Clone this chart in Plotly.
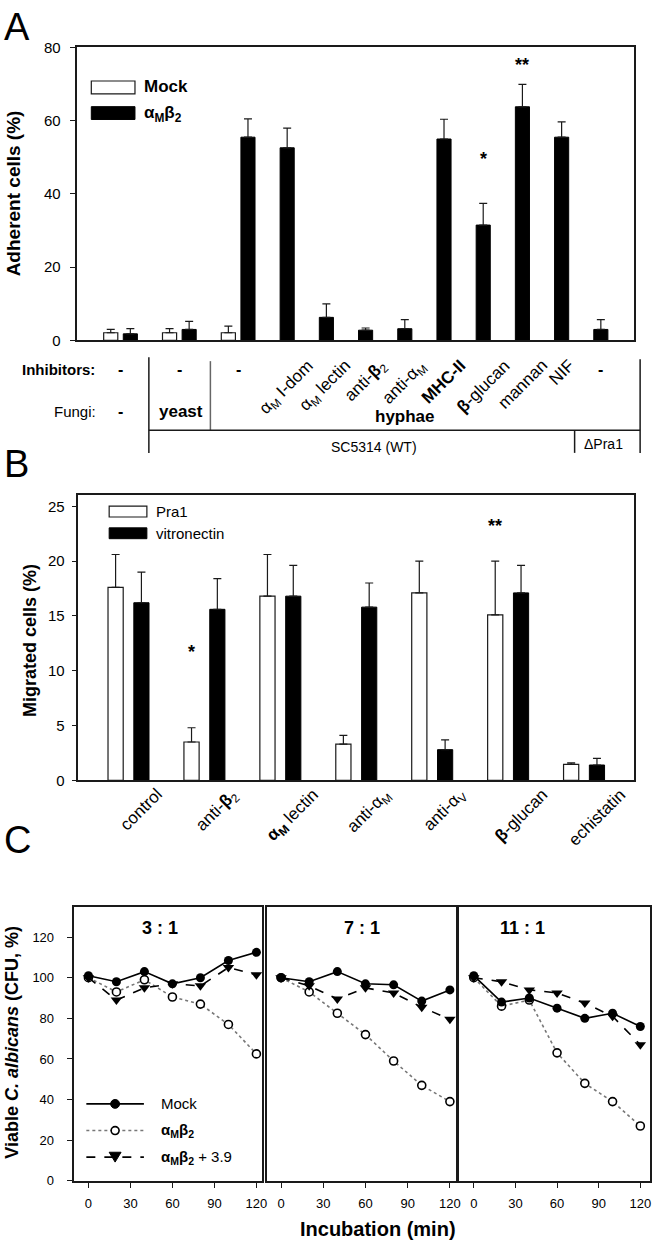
import plotly.graph_objects as go

W, H = 661, 1250
def px(x): return x / W
def py(y): return 1 - y / H
FONT = "Arial, 'Liberation Sans', sans-serif"
LC = "#1a1a1a"

# ---------------- Panel A data ----------------
a_inhib = ["-", "-", "-", "α<sub>M</sub> I-dom", "α<sub>M</sub> lectin", "anti-<b>β</b><sub>2</sub>",
           "anti-α<sub>M</sub>", "<b>MHC-II</b>", "<b>β</b>-glucan", "mannan", "NIF", "-"]
a_pos = [0, 1.5, 3, 4, 5, 6, 7, 8, 9, 10, 11, 12]
a_mock = [2.1, 2.1, 2.1, None, None, None, None, None, None, None, None, None]
a_mock_err = [0.9, 1.1, 1.8, 0, 0, 0, 0, 0, 0, 0, 0, 0]
a_amb2 = [1.8, 3.0, 55.5, 52.6, 6.3, 2.8, 3.2, 55.0, 31.5, 63.8, 55.5, 3.0]
a_amb2_err = [1.4, 2.2, 5.0, 5.4, 3.7, 0.6, 2.5, 5.4, 5.9, 6.1, 4.2, 2.7]
a_sig = ["", "", "", "", "", "", "", "", "*", "**", "", ""]
a_sig_y = [0, 0, 0, 0, 0, 0, 0, 0, 49.6, 75.2, 0, 0]

# ---------------- Panel B data ----------------
b_cats = ["control", "anti-β2", "αM lectin", "anti-αM", "anti-αV", "β-glucan", "echistatin"]
b_labels = ["control", "anti-<b>β</b><sub>2</sub>", "<b>α<sub>M</sub></b> lectin", "anti-α<sub>M</sub>",
            "anti-α<sub>V</sub>", "<b>β</b>-glucan", "echistatin"]
b_pra1 = [17.6, 3.5, 16.8, 3.3, 17.1, 15.1, 1.45]
b_pra1_err = [3.0, 1.3, 3.8, 0.8, 2.9, 4.9, 0.15]
b_vn = [16.2, 15.6, 16.8, 15.8, 2.8, 17.1, 1.4]
b_vn_err = [2.8, 2.8, 2.8, 2.2, 0.9, 2.5, 0.6]
b_sig = ["", "*", "", "", "", "**", ""]
b_sig_y = [0, 11.7, 0, 0, 0, 23.2, 0]

# ---------------- Panel C data ----------------
c_time = [0, 20, 40, 60, 80, 100, 120]
c_titles = ["3 : 1", "7 : 1", "11 : 1"]
c_mock = [[101, 98, 103, 97, 100, 108.5, 112.5],
          [100, 98, 103, 97, 96.5, 88.5, 94],
          [101, 88, 90, 85, 80, 82.5, 76]]
c_amb2 = [[100, 93, 99, 90.5, 87, 77, 62.5],
          [100, 93, 82.5, 72, 59, 47, 39],
          [100, 86, 89, 63, 48, 39, 27]]
c_amb2_39 = [[100, 89, 95, 97, 96, 105, 101.5],
             [100, 96, 89.5, 95, 92.5, 85.5, 79.5],
             [100, 98, 94, 92.5, 87.5, 81, 67]]

fig = go.Figure()

# ---- Panel A bars ----
fig.add_trace(go.Bar(x=a_pos, y=a_mock, offset=-0.43, width=0.36, xaxis="x", yaxis="y",
                     marker=dict(color="white", line=dict(color=LC, width=1.2)),
                     error_y=dict(type="data", symmetric=False, array=a_mock_err,
                                  arrayminus=[0]*len(a_mock_err), color=LC, thickness=1.2, width=4),
                     showlegend=False))
fig.add_trace(go.Bar(x=a_pos, y=a_amb2, offset=0.07, width=0.36, xaxis="x", yaxis="y",
                     marker=dict(color="black", line=dict(color="black", width=1)),
                     error_y=dict(type="data", symmetric=False, array=a_amb2_err,
                                  arrayminus=[0]*len(a_amb2_err), color=LC, thickness=1.2, width=4),
                     showlegend=False))

# ---- Panel B bars ----
fig.add_trace(go.Bar(x=list(range(len(b_cats))), y=b_pra1, offset=-0.27, width=0.2, xaxis="x2", yaxis="y2",
                     marker=dict(color="white", line=dict(color=LC, width=1.2)),
                     error_y=dict(type="data", symmetric=False, array=b_pra1_err,
                                  arrayminus=[0]*len(b_pra1_err), color=LC, thickness=1.2, width=4),
                     showlegend=False))
fig.add_trace(go.Bar(x=list(range(len(b_cats))), y=b_vn, offset=0.07, width=0.2, xaxis="x2", yaxis="y2",
                     marker=dict(color="black", line=dict(color="black", width=1)),
                     error_y=dict(type="data", symmetric=False, array=b_vn_err,
                                  arrayminus=[0]*len(b_vn_err), color=LC, thickness=1.2, width=4),
                     showlegend=False))

# ---- Panel C lines ----
for k in range(3):
    xa = "x%d" % (k + 3)
    ya = "y%d" % (k + 3)
    fig.add_trace(go.Scatter(x=c_time, y=c_amb2[k], xaxis=xa, yaxis=ya, mode="lines+markers",
                             line=dict(color="#777777", width=1.6, dash="dot"),
                             marker=dict(symbol="circle", size=8, color="white",
                                         line=dict(color="black", width=1.6)),
                             cliponaxis=False, showlegend=False))
    fig.add_trace(go.Scatter(x=c_time, y=c_amb2_39[k], xaxis=xa, yaxis=ya, mode="lines+markers",
                             line=dict(color="black", width=1.6, dash="dash"),
                             marker=dict(symbol="triangle-down", size=10, color="black"),
                             cliponaxis=False, showlegend=False))
    fig.add_trace(go.Scatter(x=c_time, y=c_mock[k], xaxis=xa, yaxis=ya, mode="lines+markers",
                             line=dict(color="black", width=1.6),
                             marker=dict(symbol="circle", size=9, color="black"),
                             cliponaxis=False, showlegend=False))

axis_common = dict(showline=True, linecolor=LC, linewidth=1.5, mirror=True, showgrid=False,
                   zeroline=False, tickcolor=LC, tickfont=dict(family=FONT, size=15, color="black"))

layout = dict(
    width=W, height=H, margin=dict(l=0, r=0, t=0, b=0),
    paper_bgcolor="white", plot_bgcolor="white", barmode="overlay",
    font=dict(family=FONT, color="black"),
    xaxis=dict(domain=[px(78), px(639)], range=[-1.1, 13.1], anchor="y",
               showticklabels=False, ticks="", **axis_common),
    yaxis=dict(domain=[py(336), py(39)], range=[0, 80], anchor="x", tickvals=[0, 20, 40, 60, 80],
               ticks="outside", ticklen=6, ticklabelstandoff=6, **axis_common),
    xaxis2=dict(domain=[px(79), px(639)], range=[-0.66, 6.66], anchor="y2",
                showticklabels=False, ticks="", **axis_common),
    yaxis2=dict(domain=[py(782), py(493)], range=[0, 26], anchor="x2", tickvals=[0, 5, 10, 15, 20, 25],
                ticks="outside", ticklen=5, ticklabelstandoff=4, **axis_common),
)
c_dom = [(75, 264), (269, 459), (462, 655)]
c_rng = [[-10, 124], [-10, 124], [-11, 127]]
for k in range(3):
    xn = "xaxis%d" % (k + 3)
    yn = "yaxis%d" % (k + 3)
    layout[xn] = dict(domain=[px(c_dom[k][0]), px(c_dom[k][1])], range=c_rng[k], anchor="y%d" % (k + 3),
                      tickvals=[0, 30, 60, 90, 120], ticks="outside", ticklen=5, ticklabelstandoff=5,
                      **{**axis_common, "tickfont": dict(family=FONT, size=13, color="black")})
    yd = dict(domain=[py(1188), py(910)], range=[0, 135], anchor="x%d" % (k + 3),
              tickvals=[0, 20, 40, 60, 80, 100, 120],
              **{**axis_common, "tickfont": dict(family=FONT, size=13, color="black")})
    if k == 0:
        yd.update(ticks="outside", ticklen=6, ticklabelstandoff=10)
    else:
        yd.update(ticks="", showticklabels=False, matches="y3")
    layout[yn] = yd
fig.update_layout(**layout)

ann = []
shp = []
def txt(x, y, s, size=14, xref="paper", yref="paper", xanchor="center", yanchor="middle", angle=0, **kw):
    ann.append(dict(x=x, y=y, text=s, xref=xref, yref=yref, xanchor=xanchor, yanchor=yanchor,
                    textangle=angle, showarrow=False, font=dict(family=FONT, size=size, color="black"), **kw))
def line(x0, y0, x1, y1, color=LC, width=1.5, dash="solid"):
    shp.append(dict(type="line", xref="paper", yref="paper", x0=px(x0), y0=py(y0), x1=px(x1), y1=py(y1),
                    line=dict(color=color, width=width, dash=dash)))

# panel letters
txt(px(2), py(18), "A", size=38, xanchor="left")
txt(px(2), py(461), "B", size=38, xanchor="left")
txt(px(2), py(842), "C", size=38, xanchor="left")

# axis titles
txt(px(14), py(187), "<b>Adherent cells (%)</b>", size=19, angle=-90)
txt(px(31), py(640), "<b>Migrated cells (%)</b>", size=18, angle=-90)
txt(px(12), py(1047), "<b>Viable <i>C. albicans</i> (CFU, %)</b>", size=18, angle=-90)
txt(px(381), py(1237), "<b>Incubation (min)</b>", size=20)

# Panel A legend
shp.append(dict(type="rect", xref="paper", yref="paper", x0=px(92), x1=px(136), y0=py(86), y1=py(73),
                fillcolor="white", line=dict(color=LC, width=1.2)))
shp.append(dict(type="rect", xref="paper", yref="paper", x0=px(92), x1=px(136), y0=py(112), y1=py(99),
                fillcolor="black", line=dict(color="black", width=1)))
txt(px(143), py(79), "<b>Mock</b>", size=17, xanchor="left")
txt(px(143), py(106), "<b>α<sub>M</sub>β<sub>2</sub></b>", size=17, xanchor="left")

# Panel A significance
for i, s in enumerate(a_sig):
    if s:
        txt(a_pos[i] + 0.25, a_sig_y[i], "<b>%s</b>" % s, size=18, xref="x", yref="y")

# Panel A inhibitor labels
for i, s in enumerate(a_inhib):
    if s == "-":
        xx = a_pos[i] if i < 3 else a_pos[i] + 0.25
        txt(xx, py(365), "<b>-</b>", size=16, xref="x")
    else:
        txt(a_pos[i] + 0.25, py(349), s, size=17, xref="x", yanchor="top", angle=-45)
txt(px(98), py(365), "<b>Inhibitors:</b>", size=15, xanchor="right")
txt(px(99), py(408), "Fungi:", size=15, xanchor="right")
txt(a_pos[0], py(408), "<b>-</b>", size=16, xref="x")
txt(px(182), py(408), "<b>yeast</b>", size=17)
txt(px(408), py(413), "<b>hyphae</b>", size=17)
txt(px(377), py(444), "SC5314 (WT)", size=14)
txt(px(608), py(441), "ΔPra1", size=14)
line(150, 353, 150, 450)
line(212, 357, 212, 427, color="#666666")
line(150, 427, 645, 427)
line(579, 427, 579, 450)
line(645, 355, 645, 450)

# Panel B legend
shp.append(dict(type="rect", xref="paper", yref="paper", x0=px(110), x1=px(148), y0=py(515), y1=py(504),
                fillcolor="white", line=dict(color=LC, width=1.2)))
shp.append(dict(type="rect", xref="paper", yref="paper", x0=px(110), x1=px(148), y0=py(537), y1=py(526),
                fillcolor="black", line=dict(color="black", width=1)))
txt(px(155), py(509), "Pra1", size=15, xanchor="left")
txt(px(155), py(532), "vitronectin", size=15, xanchor="left")

# Panel B significance and labels
for i, s in enumerate(b_sig):
    if s:
        txt(i - 0.17, b_sig_y[i], "<b>%s</b>" % s, size=18, xref="x2", yref="y2")
for i, s in enumerate(b_labels):
    txt(i + 0.17, py(784), s, size=17, xref="x2", yanchor="top", angle=-45)

# Panel C titles
for k, (xc, t) in enumerate(zip([161, 365, 526], c_titles)):
    txt(px(xc), py(932), "<b>%s</b>" % t, size=18)

# Panel C legend
ly = [1110, 1137, 1164]
line(87, ly[0], 145, ly[0], color="black", width=1.6)
line(87, ly[1], 145, ly[1], color="#777777", width=1.6, dash="dot")
line(87, ly[2], 145, ly[2], color="black", width=1.6, dash="dash")
shp.append(dict(type="circle", xref="paper", yref="paper", x0=px(111.5), x1=px(120.5),
                y0=py(ly[0] + 4.5), y1=py(ly[0] - 4.5), fillcolor="black", line=dict(color="black", width=1)))
shp.append(dict(type="circle", xref="paper", yref="paper", x0=px(112), x1=px(120),
                y0=py(ly[1] + 4), y1=py(ly[1] - 4), fillcolor="white", line=dict(color="black", width=1.6)))
shp.append(dict(type="path", xref="paper", yref="paper",
                path="M %f %f L %f %f L %f %f Z" % (px(110), py(ly[2] - 5), px(122), py(ly[2] - 5),
                                                   px(116), py(ly[2] + 5)),
                fillcolor="black", line=dict(color="black", width=1)))
txt(px(160), py(ly[0]), "Mock", size=15, xanchor="left")
txt(px(160), py(ly[1]), "<b>α<sub>M</sub>β<sub>2</sub></b>", size=15, xanchor="left")
txt(px(160), py(ly[2]), "<b>α<sub>M</sub>β<sub>2</sub></b> + 3.9", size=15, xanchor="left")

fig.update_layout(annotations=ann, shapes=shp)
fig.write_html("out.html", config={"displayModeBar": False},
               post_script="document.body.style.margin='0';document.body.style.padding='0';"
                           "document.body.style.overflow='hidden';")
